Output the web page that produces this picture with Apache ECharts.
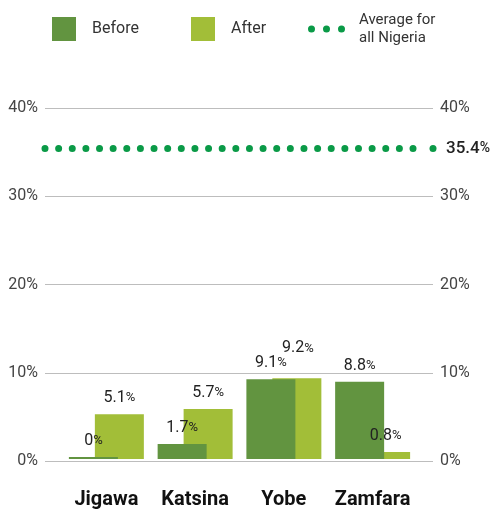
<!DOCTYPE html>
<html>
<head>
<meta charset="utf-8">
<script src="https://cdn.jsdelivr.net/npm/echarts@6/dist/echarts.min.js"></script>
<style>
  html, body { margin: 0; padding: 0; background: #fff; }
  #chart { width: 496px; height: 510px; }
</style>
</head>
<body>
<div id="chart"></div>
<script>
  // data
  const states = ['Jigawa', 'Katsina', 'Yobe', 'Zamfara'];
  const before = [0, 1.7, 9.1, 8.8];
  const after = [5.1, 5.7, 9.2, 0.8];
  const nigeriaAverage = 35.4;
  const yTicks = [0, 10, 20, 30, 40];

  const FONT = 'Roboto, "Noto Sans", sans-serif';
  const DARK = '#629440';
  const LIGHT = '#a2be38';
  const DOTS = '#0a9a47';

  // round dots every 13.6px, with a wider gap before the end dot
  const dotDash = [];
  for (let i = 0; i < 28; i++) dotDash.push(0, 13.63);
  dotDash[dotDash.length - 1] = 60;

  const pctRich = {
    n: { fontSize: 16, fontFamily: FONT, color: '#222' },
    p: { fontSize: 13, fontFamily: FONT, color: '#222' }
  };
  const pctLabel = {
    show: true,
    position: 'top',
    distance: 8,
    formatter: p => `{n|${p.value}}{p|%}`,
    rich: pctRich
  };

  const legendText = { fontSize: 16, color: '#333', fontFamily: FONT };
  const axisText = { fontSize: 16, color: '#444', fontFamily: FONT };

  // Yobe's After label sits higher so it clears the Before label
  const afterData = after.map((v, i) => states[i] === 'Yobe' ? { value: v, label: { offset: [1, -14] } } : v);

  let myChart = echarts.init(document.getElementById('chart'));
  let option = {
    animation: false,
    legend: [
      {
        data: [{ name: 'Before', icon: 'rect' }],
        left: 52, top: 17, padding: 0, itemWidth: 24, itemHeight: 24,
        selectedMode: false,
        textStyle: { ...legendText, padding: [5, 0, 0, 11] }
      },
      {
        data: [{ name: 'After', icon: 'rect' }],
        left: 191, top: 17, padding: 0, itemWidth: 24, itemHeight: 24,
        selectedMode: false,
        textStyle: { ...legendText, padding: [5, 0, 0, 11] }
      },
      {
        data: [{
          name: 'Average for all Nigeria',
          icon: 'path://M0,3.5a3.5,3.5 0 1 0 7,0a3.5,3.5 0 1 0 -7,0Z M15,3.5a3.5,3.5 0 1 0 7,0a3.5,3.5 0 1 0 -7,0Z M30,3.5a3.5,3.5 0 1 0 7,0a3.5,3.5 0 1 0 -7,0Z'
        }],
        left: 308, top: 11, padding: 0, itemWidth: 37, itemHeight: 7,
        selectedMode: false,
        itemStyle: { borderWidth: 0 },
        formatter: name => name.replace(' all', '\nall'),
        textStyle: { ...legendText, fontSize: 15, lineHeight: 18, padding: [0, 0, 0, 9] }
      }
    ],
    grid: [
      { left: 45, right: 63, top: 108, bottom: 49 },
      { left: 62, right: 79, top: 108, bottom: 49 }
    ],
    xAxis: [
      { gridIndex: 0, type: 'category', data: states, show: false },
      {
        gridIndex: 1,
        type: 'category',
        data: states,
        axisLine: { show: false },
        axisTick: { show: false },
        axisLabel: {
          interval: 0,
          margin: 31,
          fontSize: 20,
          fontWeight: 'bold',
          color: '#111',
          fontFamily: FONT
        }
      },
      // label layer for the bars, so labels sit above both bar series
      { gridIndex: 1, type: 'category', data: states, show: false }
    ],
    yAxis: [
      {
        gridIndex: 0,
        type: 'value',
        min: yTicks[0],
        max: yTicks[yTicks.length - 1],
        interval: 10,
        axisLine: { show: false },
        axisTick: { show: false },
        splitLine: { lineStyle: { color: '#bdbdbd', width: 1 } },
        axisLabel: { ...axisText, margin: 7, formatter: '{value}%' }
      },
      {
        gridIndex: 0,
        type: 'value',
        position: 'right',
        min: yTicks[0],
        max: yTicks[yTicks.length - 1],
        interval: 10,
        axisLine: { show: false },
        axisTick: { show: false },
        splitLine: { show: false },
        axisLabel: { ...axisText, margin: 7, formatter: '{value}%' }
      },
      {
        gridIndex: 1,
        type: 'value',
        min: yTicks[0],
        max: yTicks[yTicks.length - 1],
        interval: 10,
        show: false,
        splitLine: { show: false }
      }
    ],
    series: [
      {
        name: 'Before',
        type: 'bar',
        xAxisIndex: 1,
        yAxisIndex: 2,
        z: 3,
        barWidth: 49,
        barGap: '-47%',
        barMinHeight: 2,
        itemStyle: { color: DARK },
        data: before
      },
      {
        name: 'After',
        type: 'bar',
        xAxisIndex: 1,
        yAxisIndex: 2,
        z: 2,
        barWidth: 49,
        barGap: '-47%',
        itemStyle: { color: LIGHT },
        data: after
      },
      {
        name: 'Before labels',
        type: 'bar',
        xAxisIndex: 2,
        yAxisIndex: 2,
        z: 5,
        silent: true,
        barWidth: 49,
        barGap: '-47%',
        barMinHeight: 2,
        itemStyle: { color: 'rgba(0,0,0,0)' },
        label: pctLabel,
        data: before
      },
      {
        name: 'After labels',
        type: 'bar',
        xAxisIndex: 2,
        yAxisIndex: 2,
        z: 5,
        silent: true,
        barWidth: 49,
        barGap: '-47%',
        itemStyle: { color: 'rgba(0,0,0,0)' },
        label: pctLabel,
        data: afterData
      },
      {
        name: 'Average for all Nigeria',
        type: 'line',
        xAxisIndex: 0,
        yAxisIndex: 0,
        symbol: 'none',
        itemStyle: { color: DOTS },
        lineStyle: { color: DOTS },
        data: [],
        markLine: {
          silent: true,
          symbol: ['none', 'circle'],
          symbolSize: 7,
          lineStyle: { color: DOTS, width: 7, type: dotDash, cap: 'round' },
          label: {
            position: 'end',
            distance: 13,
            formatter: p => `{n|${p.value}}{p|%}`,
            rich: {
              n: { fontSize: 17, fontWeight: 500, color: '#222', fontFamily: FONT },
              p: { fontSize: 14, fontWeight: 500, color: '#222', fontFamily: FONT }
            }
          },
          data: [{ yAxis: nigeriaAverage }]
        }
      }
    ]
  };
  option && myChart.setOption(option);
</script>
</body>
</html>
